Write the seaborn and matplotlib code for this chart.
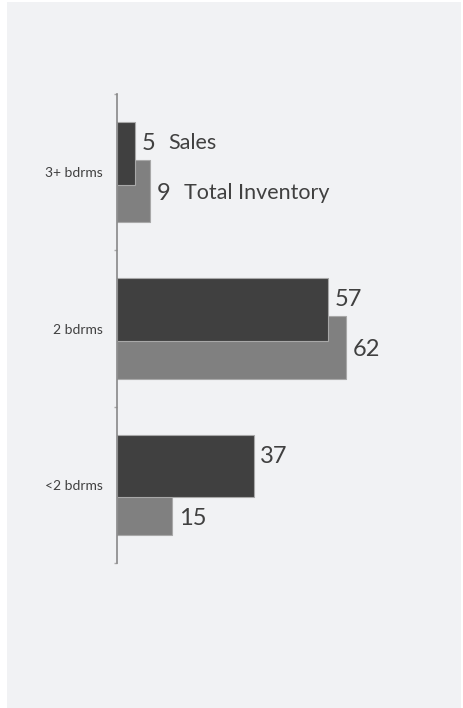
import pandas as pd
import seaborn as sns
import matplotlib.pyplot as plt
import matplotlib.transforms as mtransforms
from matplotlib.patches import Rectangle

categories = ["3+ bdrms", "2 bdrms", "<2 bdrms"]
sales = [5, 57, 37]
inventory = [9, 62, 15]

df = pd.DataFrame({"bedrooms": categories, "Sales": sales, "Total Inventory": inventory})

sns.set_theme(style="white")
plt.rcParams['font.family'] = ['Lato', 'DejaVu Sans']

bg = '#f1f2f4'
txt = '#404040'
px = 0.72  # points per pixel at dpi 100

fig = plt.figure(figsize=(4.63, 7.08), dpi=100, facecolor='white')
fig.patches.append(Rectangle((7 / 463, 0), 454 / 463, 706 / 708, transform=fig.transFigure,
                             facecolor=bg, edgecolor='none', zorder=-10))
ax = fig.add_axes([117 / 463, 145 / 708, 0.703, 469 / 708])
ax.set_facecolor('none')

shift = 0.12
bar_w = 0.4

# inventory first, sales drawn on top of it
sns.barplot(data=df, y="bedrooms", x="Total Inventory", color='#808080', width=bar_w,
            saturation=1, edgecolor='#a8a8a8', linewidth=0.8, ax=ax)
n_inv = len(ax.patches)
sns.barplot(data=df, y="bedrooms", x="Sales", color='#404040', width=bar_w,
            saturation=1, edgecolor='#a8a8a8', linewidth=0.8, ax=ax)

down = mtransforms.Affine2D().translate(0, shift) + ax.transData
up = mtransforms.Affine2D().translate(0, -shift) + ax.transData
for i, p in enumerate(ax.patches):
    p.set_transform(down if i < n_inv else up)

ax.set_xlim(0, 88)
ax.set_ylim(2.5, -0.5)

# value labels
for i, (s, v) in enumerate(zip(sales, inventory)):
    t_s = ax.annotate(str(s), xy=(s, i - shift), xytext=(6.5 * px, 10 * px),
                      textcoords='offset points', va='center', ha='left',
                      fontsize=17, color=txt)
    y_inv = i + bar_w / 2 if s > v else i + shift
    t_v = ax.annotate(str(v), xy=(v, y_inv), xytext=(6.5 * px, -2.5 * px),
                      textcoords='offset points', va='center', ha='left',
                      fontsize=17, color=txt)
    if i == 0:
        ax.annotate("Sales", xy=(1, 0.5), xycoords=t_s, xytext=(13 * px, 0),
                    textcoords='offset points', va='center', ha='left',
                    fontsize=15.5, color=txt)
        ax.annotate("Total Inventory", xy=(1, 0.5), xycoords=t_v, xytext=(13 * px, 0),
                    textcoords='offset points', va='center', ha='left',
                    fontsize=15.5, color=txt)

sns.despine(ax=ax, left=False, bottom=True)
ax.spines['left'].set_color('#888888')
ax.spines['left'].set_linewidth(1.2)
ax.xaxis.set_visible(False)
ax.set_ylabel('')
ax.set_yticks([-0.5, 0.5, 1.5, 2.5], minor=True)
ax.tick_params(axis='y', which='major', length=0, pad=10, labelsize=10, labelcolor=txt)
ax.tick_params(axis='y', which='minor', length=3 * px, width=1, color='#aaaaaa', left=True)

fig.savefig('out.png', dpi=100, facecolor='white')
